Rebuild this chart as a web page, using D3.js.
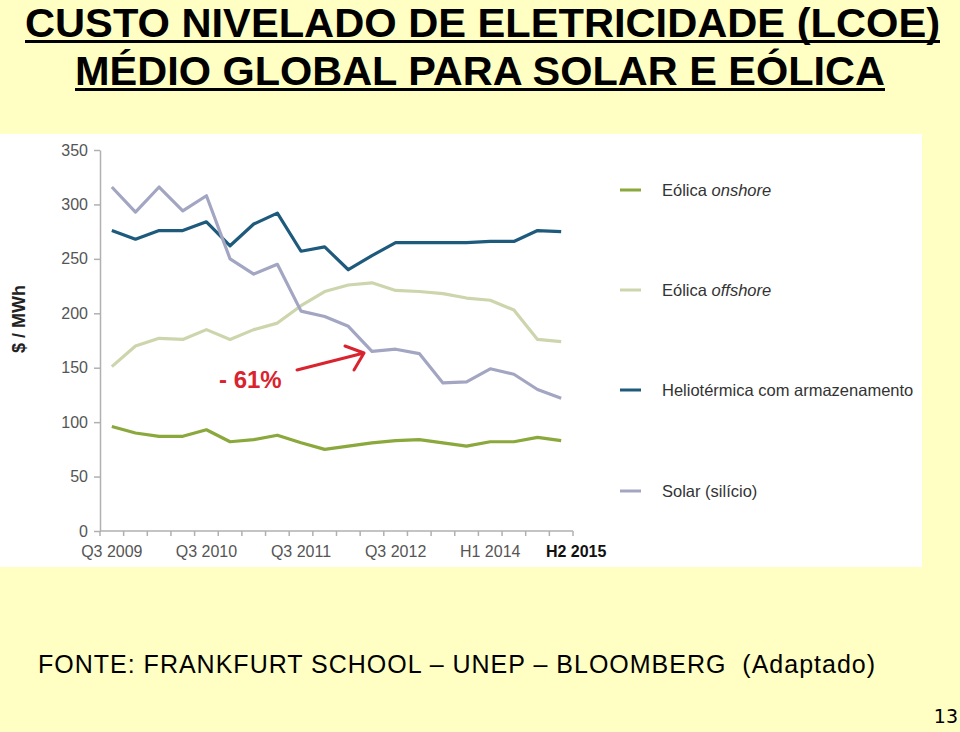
<!DOCTYPE html>
<html>
<head>
<meta charset="utf-8">
<script src="https://cdn.jsdelivr.net/npm/d3@7"></script>
<style>
  body { margin: 0; background: #ffffc4; }
  svg { display: block; }
</style>
</head>
<body>
<svg id="chart" width="960" height="732"></svg>
<script>
// data
const periods = [
  'Q3 2009', 'Q4 2009', 'Q1 2010', 'Q2 2010', 'Q3 2010', 'Q4 2010', 'Q1 2011',
  'Q2 2011', 'Q3 2011', 'Q4 2011', 'Q1 2012', 'Q2 2012', 'Q3 2012', 'Q4 2012',
  'H1 2013', 'H2 2013', 'H1 2014', 'H2 2014', 'H1 2015', 'H2 2015'
]
const shownLabels = ['Q3 2009', 'Q3 2010', 'Q3 2011', 'Q3 2012', 'H1 2014', 'H2 2015']
const yTicks = [0, 50, 100, 150, 200, 250, 300, 350]

const onshore   = [96, 90, 87, 87, 93, 82, 84, 88, 81, 75, 78, 81, 83, 84, 81, 78, 82, 82, 86, 83]
const offshore  = [151, 170, 177, 176, 185, 176, 185, 191, 207, 220, 226, 228, 221, 220, 218, 214, 212, 203, 176, 174]
const helio     = [276, 268, 276, 276, 284, 262, 282, 292, 257, 261, 240, 253, 265, 265, 265, 265, 266, 266, 276, 275]
const solar     = [316, 293, 316, 294, 308, 250, 236, 245, 202, 197, 188, 165, 167, 163, 136, 137, 149, 144, 130, 122]

const seriesNames  = ['Eólica onshore', 'Eólica offshore', 'Heliotérmica com armazenamento', 'Solar (silício)']
const seriesColors = ['#8aa83c', '#cdd5ad', '#1e5a7c', '#a3a6c2']
const seriesValues = [onshore, offshore, helio, solar]

const font = 'Liberation Sans, Arial, sans-serif'
const svg = d3.select('#chart')

// titles
const title = svg.append('g')
  .attr('font-family', font)
  .attr('font-weight', 'bold')
  .attr('font-size', 40)
  .attr('fill', '#000')

const titleLines = [
  {text: 'CUSTO NIVELADO DE ELETRICIDADE (LCOE)', x: 25, y: 37, w: 915},
  {text: 'MÉDIO GLOBAL PARA SOLAR E EÓLICA', x: 75, y: 85, w: 810}
]
titleLines.forEach(t => {
  title.append('text')
    .attr('x', t.x).attr('y', t.y)
    .attr('textLength', t.w)
    .attr('lengthAdjust', 'spacingAndGlyphs')
    .text(t.text)
  title.append('rect')
    .attr('x', t.x).attr('y', t.y + 3)
    .attr('width', t.w).attr('height', 3)
})

// white chart panel
svg.append('rect')
  .attr('x', 0).attr('y', 134)
  .attr('width', 922).attr('height', 433)
  .attr('fill', '#fff')

const x = d3.scaleBand().domain(periods).range([100, 573]).padding(0)
const y = d3.scaleLinear().domain([0, 350]).range([531, 150])
const cx = d => x(d) + x.bandwidth() / 2

// y axis
const yAxis = svg.append('g')
  .attr('transform', 'translate(100,0)')
  .call(d3.axisLeft(y).tickValues(yTicks).tickSize(6).tickSizeOuter(0).tickPadding(6))
yAxis.select('.domain').attr('stroke', '#b0b0b0').attr('stroke-width', 1.5)
yAxis.selectAll('.tick line').attr('stroke', '#b0b0b0').attr('stroke-width', 1.5)
yAxis.selectAll('.tick text')
  .attr('font-family', font)
  .attr('font-size', 16)
  .attr('fill', '#555')

// x axis: line and ticks at band edges
const xEdges = periods.map(p => x(p)).concat([x.range()[1]])
svg.append('line')
  .attr('x1', 100).attr('x2', 573)
  .attr('y1', y(0)).attr('y2', y(0))
  .attr('stroke', '#b0b0b0').attr('stroke-width', 1.5)
svg.append('g').selectAll('line')
  .data(xEdges)
  .join('line')
  .attr('x1', d => d).attr('x2', d => d)
  .attr('y1', y(0)).attr('y2', y(0) + 5)
  .attr('stroke', '#b0b0b0').attr('stroke-width', 1.5)

svg.append('g').selectAll('text')
  .data(shownLabels)
  .join('text')
  .attr('x', (d, i) => cx(d) + (i === shownLabels.length - 1 ? 15 : 0))
  .attr('y', 557)
  .attr('text-anchor', 'middle')
  .attr('font-family', font)
  .attr('font-size', 16)
  .attr('font-weight', (d, i) => i === shownLabels.length - 1 ? 'bold' : 'normal')
  .attr('fill', (d, i) => i === shownLabels.length - 1 ? '#111' : '#555')
  .text(d => d)

// y label
svg.append('text')
  .attr('transform', 'translate(25,319) rotate(-90)')
  .attr('text-anchor', 'middle')
  .attr('font-family', font)
  .attr('font-size', 18)
  .attr('font-weight', 'bold')
  .attr('fill', '#222')
  .text('$ / MWh')

// lines
const line = d3.line()
  .x((d, i) => cx(periods[i]))
  .y(d => y(d))

svg.append('g').selectAll('path')
  .data(seriesValues)
  .join('path')
  .attr('d', d => line(d))
  .attr('fill', 'none')
  .attr('stroke', (d, i) => seriesColors[i])
  .attr('stroke-width', 3.2)
  .attr('stroke-linejoin', 'round')

// legend
const legendY = [190, 290, 390, 491]
const legend = svg.append('g')
  .selectAll('g')
  .data(seriesNames)
  .join('g')
  .attr('transform', (d, i) => `translate(620,${legendY[i]})`)

legend.append('line')
  .attr('x1', 0).attr('x2', 21)
  .attr('stroke', (d, i) => seriesColors[i])
  .attr('stroke-width', 3)

const legendText = legend.append('text')
  .attr('x', 42)
  .attr('dy', '0.35em')
  .attr('font-family', font)
  .attr('font-size', 16.5)
  .attr('fill', '#333')

legendText.each(function (d) {
  const t = d3.select(this)
  if (d.startsWith('Eólica')) {
    t.append('tspan').text('Eólica ')
    t.append('tspan').attr('font-style', 'italic').text(d.replace('Eólica ', ''))
  } else {
    t.text(d)
  }
})

// annotation
svg.append('text')
  .attr('x', 219).attr('y', 388)
  .attr('font-family', font)
  .attr('font-size', 24)
  .attr('font-weight', 'bold')
  .attr('fill', '#d9232e')
  .text('- 61%')

svg.append('path')
  .attr('d', 'M297,370 L364,353 M345,346 L364,353 L354,370')
  .attr('fill', 'none')
  .attr('stroke', '#d9232e')
  .attr('stroke-width', 3)
  .attr('stroke-linecap', 'round')
  .attr('stroke-linejoin', 'round')

// footer
svg.append('text')
  .attr('x', 38).attr('y', 673)
  .attr('font-family', font)
  .attr('font-size', 25)
  .attr('fill', '#000')
  .attr('textLength', 837)
  .text('FONTE: FRANKFURT SCHOOL – UNEP – BLOOMBERG\u00a0\u00a0(Adaptado)')

svg.append('text')
  .attr('x', 958).attr('y', 723)
  .attr('text-anchor', 'end')
  .attr('font-family', 'DejaVu Sans, sans-serif')
  .attr('font-size', 19)
  .attr('fill', '#000')
  .text('13')
</script>
</body>
</html>
